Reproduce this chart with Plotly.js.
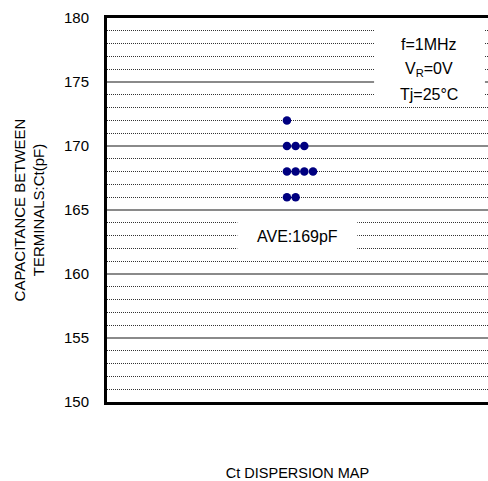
<!DOCTYPE html>
<html>
<head>
<meta charset="utf-8">
<script src="https://cdn.plot.ly/plotly-3.0.1.min.js"></script>
<style>html,body{margin:0;padding:0;background:#fff;}#chart{width:488px;height:481px;}</style>
</head>
<body>
<div id="chart"></div>
<script>
// Measured capacitance values (pF) and their position in each stacked row
var ctValues = [172, 170, 170, 170, 168, 168, 168, 168, 166, 166];
var stackIndex = [1, 1, 2, 3, 1, 2, 3, 4, 1, 2];
var yTickVals = [150, 155, 160, 165, 170, 175, 180];
var yTickText = ['150', '155', '160', '165', '170', '175', '180'];
var aveLabel = 'AVE:169pF';
var conditionLabels = ['f=1MHz', 'V<sub>R</sub>=0V', 'Tj=25°C'];
var conditionY = [177.9, 175.95, 174.0];

var FONT = 'Liberation Sans, Arial, sans-serif';

var trace = {
  type: 'scatter',
  mode: 'markers',
  x: stackIndex,
  y: ctValues,
  marker: {color: '#000080', size: 8.5},
  hoverinfo: 'skip',
  showlegend: false
};

var annotations = [{
  xref: 'paper', yref: 'y', x: 0.4995, y: 162.9, xanchor: 'center', yanchor: 'middle',
  text: aveLabel, showarrow: false,
  font: {family: FONT, size: 16, color: '#000'}
}];
for (var i = 0; i < conditionLabels.length; i++) {
  annotations.push({
    xref: 'paper', yref: 'y', x: 0.845, y: conditionY[i], xanchor: 'center', yanchor: 'middle',
    text: conditionLabels[i], showarrow: false,
    font: {family: FONT, size: 16, color: '#000'}
  });
}

var layout = {
  width: 488, height: 481,
  margin: {l: 106.5, r: 0, t: 18.3, b: 78.7},
  paper_bgcolor: '#fff', plot_bgcolor: '#fff',
  font: {family: FONT, size: 15, color: '#000'},
  xaxis: {
    range: [-19.71, 24.14],
    showticklabels: false, ticks: '',
    showgrid: false, zeroline: false,
    showline: true, linecolor: '#000', linewidth: 3, mirror: true,
    title: {text: 'Ct DISPERSION MAP', font: {family: FONT, size: 14.5, color: '#000'}, standoff: 66}
  },
  yaxis: {
    range: [150, 180],
    tickmode: 'array', tickvals: yTickVals, ticktext: yTickText,
    ticks: '', ticklabelstandoff: 12,
    tickfont: {family: FONT, size: 15, color: '#000'},
    showgrid: true, gridcolor: '#8a8a8a', gridwidth: 1.5,
    minor: {dtick: 1, showgrid: true, gridcolor: '#333', gridwidth: 1, griddash: '1px,1px'},
    zeroline: false,
    showline: true, linecolor: '#000', linewidth: 3,
    title: {text: 'CAPACITANCE BETWEEN<br>TERMINALS:Ct(pF)', font: {family: FONT, size: 15, color: '#000'}, standoff: 16}
  },
  shapes: [
    {type: 'rect', xref: 'paper', yref: 'y', x0: 0.342, x1: 0.657, y0: 161.4, y1: 164.6,
     fillcolor: '#fff', line: {width: 0}, layer: 'above'},
    {type: 'rect', xref: 'paper', yref: 'y', x0: 0.701, x1: 0.992, y0: 173.5, y1: 179.8,
     fillcolor: '#fff', line: {width: 0}, layer: 'above'}
  ],
  annotations: annotations
};

Plotly.newPlot('chart', [trace], layout, {displayModeBar: false, staticPlot: true});
</script>
</body>
</html>
